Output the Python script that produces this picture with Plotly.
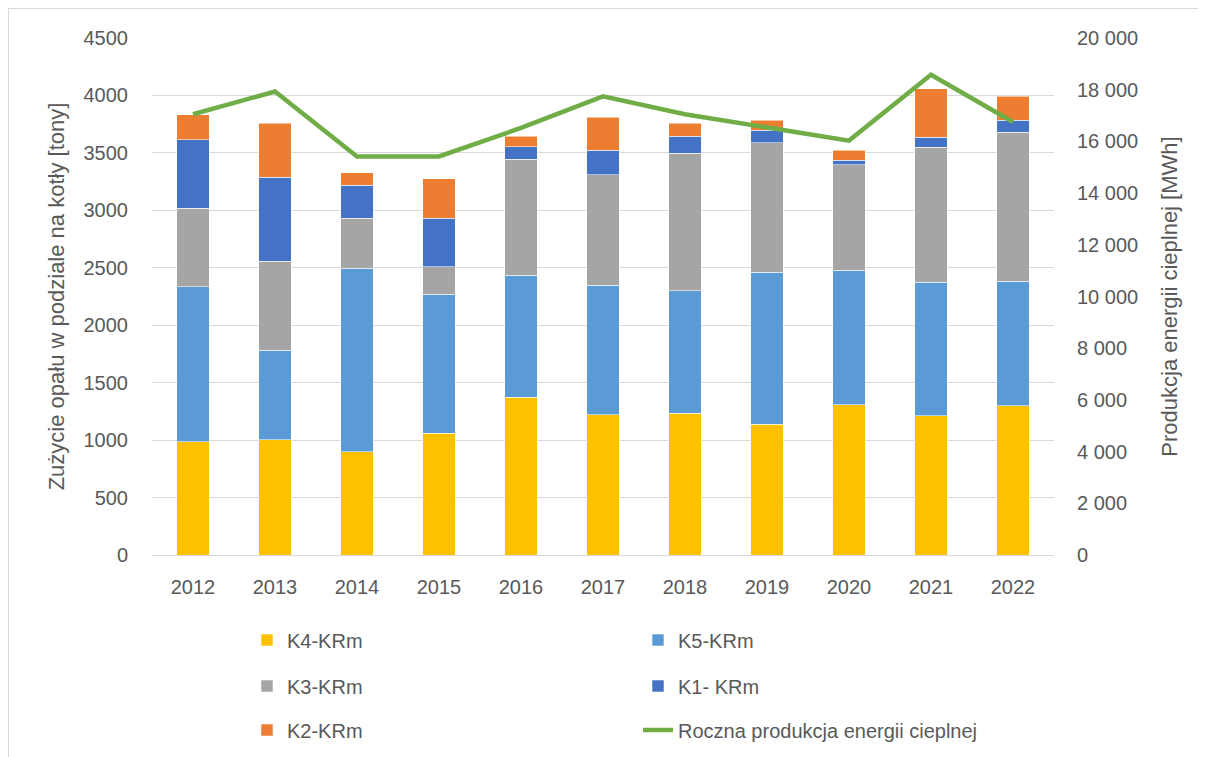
import plotly.graph_objects as go

years = ["2012", "2013", "2014", "2015", "2016", "2017", "2018", "2019", "2020", "2021", "2022"]
k4 = [985, 1005, 900, 1060, 1375, 1220, 1235, 1140, 1310, 1212, 1300]
k5 = [1350, 777, 1595, 1210, 1060, 1128, 1064, 1320, 1168, 1162, 1083]
k3 = [685, 775, 435, 240, 1008, 962, 1197, 1130, 919, 1177, 1295]
k1 = [595, 730, 290, 422, 111, 215, 148, 105, 41, 84, 105]
k2 = [215, 470, 105, 341, 93, 284, 116, 87, 87, 423, 212]
energy = [17050, 17930, 15420, 15420, 16520, 17740, 17050, 16520, 16030, 18580, 16750]

W, H = 1206, 757
L, R, T, B = 144, 160, 30, 210
FONT = "Liberation Sans"
TXT = "#595959"

fig = go.Figure()
bar_specs = [
    ("K4-KRm", k4, "#FFC000", "legend"),
    ("K5-KRm", k5, "#5B9BD5", "legend"),
    ("K3-KRm", k3, "#A5A5A5", "legend2"),
    ("K1- KRm", k1, "#4472C4", "legend2"),
    ("K2-KRm", k2, "#ED7D31", "legend3"),
]
for name, vals, col, lg in bar_specs:
    fig.add_trace(go.Bar(
        x=years, y=vals, name=name, marker_color=col,
        marker_line=dict(color="rgba(255,255,255,0.55)", width=1),
        legend=lg,
    ))
fig.add_trace(go.Scatter(
    x=years, y=energy, name="Roczna produkcja energii cieplnej",
    mode="lines", line=dict(color="#70AD47", width=4.5),
    yaxis="y2", legend="legend3",
))

def leg(py):
    return dict(
        orientation="h", xref="container", yref="container",
        x=239 / W, y=1 - py / H, xanchor="left", yanchor="middle",
        entrywidth=346, traceorder="normal",
        font=dict(family=FONT, size=20, color=TXT),
        bgcolor="rgba(0,0,0,0)", itemwidth=30,
    )

fig.update_layout(
    width=W, height=H,
    margin=dict(l=L, r=R, t=T, b=B, autoexpand=False),
    paper_bgcolor="white", plot_bgcolor="white",
    barmode="stack", bargap=0.6,
    separators=", ",
    font=dict(family=FONT, size=20, color=TXT),
    xaxis=dict(
        showgrid=False, showline=True, linecolor="#D9D9D9", linewidth=1,
        ticks="outside", ticklen=14, tickcolor="rgba(0,0,0,0)",
        tickfont=dict(family=FONT, size=20, color=TXT),
    ),
    yaxis=dict(
        range=[0, 4500], dtick=500, tickformat="d",
        showgrid=True, gridcolor="#D9D9D9", gridwidth=1, zeroline=False,
        ticks="outside", ticklen=19, tickcolor="rgba(0,0,0,0)",
        tickfont=dict(family=FONT, size=20, color=TXT),
        title=dict(text="Zużycie opału w podziale na kotły [tony]",
                   font=dict(family=FONT, size=22, color=TXT), standoff=12),
    ),
    yaxis2=dict(
        range=[0, 20000], dtick=2000, tickformat=",d",
        overlaying="y", side="right", showgrid=False, zeroline=False,
        ticks="outside", ticklen=18, tickcolor="rgba(0,0,0,0)",
        tickfont=dict(family=FONT, size=20, color=TXT),
        title=dict(text="Produkcja energii cieplnej [MWh]",
                   font=dict(family=FONT, size=22, color=TXT), standoff=24),
    ),
    legend=leg(632),
    legend2=leg(678),
    legend3=leg(722),
    showlegend=True,
)

def px_x(px):
    return (px - L) / (W - L - R)

def px_y(py):
    return (H - B - py) / (H - T - B)

border = dict(color="#D9D9D9", width=1)
fig.add_shape(type="line", xref="paper", yref="paper",
              x0=px_x(0), x1=px_x(W), y0=px_y(0.5), y1=px_y(0.5), line=border)
fig.add_shape(type="line", xref="paper", yref="paper",
              x0=px_x(0.5), x1=px_x(0.5), y0=px_y(0), y1=px_y(H), line=border)

fig.write_html("out.html")
